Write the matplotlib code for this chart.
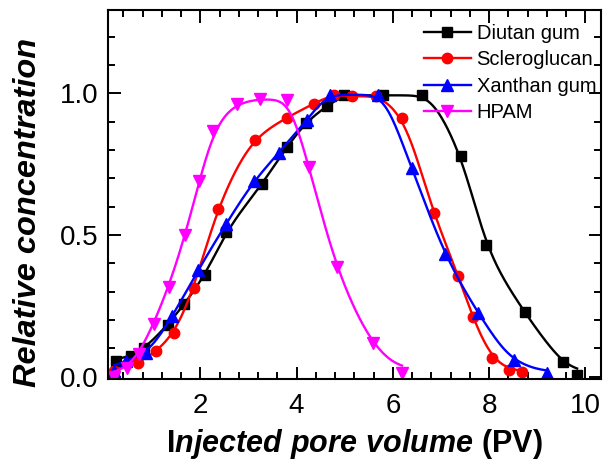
import numpy as np
import matplotlib.pyplot as plt
from matplotlib.ticker import MultipleLocator

plt.rcParams['font.family'] = ['Liberation Sans', 'DejaVu Sans']
plt.rcParams['mathtext.fontset'] = 'custom'
plt.rcParams['mathtext.rm'] = 'Liberation Sans:bold'
plt.rcParams['mathtext.it'] = 'Liberation Sans:bold:italic'
plt.rcParams['mathtext.bf'] = 'Liberation Sans:bold'

# Diutan gum
x_diutan = [0.25, 0.56, 0.83, 1.32, 1.67, 2.10, 2.54, 3.28, 3.80, 4.19, 4.63, 4.98,
            5.80, 6.61, 7.41, 7.94, 8.74, 9.54, 9.83]
y_diutan = [0.054, 0.071, 0.10, 0.183, 0.257, 0.36, 0.51, 0.68, 0.81, 0.897, 0.954, 0.993,
            0.993, 0.993, 0.78, 0.465, 0.228, 0.05, 0.004]

# Scleroglucan
x_sclero = [0.21, 0.70, 1.08, 1.46, 1.86, 2.36, 3.14, 3.80, 4.36, 4.77, 5.15, 5.65,
            6.19, 6.85, 7.36, 7.66, 8.06, 8.41, 8.69]
y_sclero = [0.019, 0.048, 0.089, 0.154, 0.312, 0.59, 0.837, 0.914, 0.963, 0.995, 0.99, 0.99,
            0.914, 0.576, 0.356, 0.209, 0.066, 0.025, 0.015]

# Xanthan gum
x_xanthan = [0.21, 0.45, 0.87, 1.42, 1.96, 2.54, 3.12, 3.63, 4.22, 4.69, 5.70,
             6.39, 7.09, 7.78, 8.51, 9.21]
y_xanthan = [0.02, 0.054, 0.083, 0.215, 0.377, 0.54, 0.69, 0.79, 0.906, 0.995, 0.995,
             0.735, 0.433, 0.224, 0.06, 0.012]

# HPAM
x_hpam = [0.21, 0.48, 0.73, 1.03, 1.34, 1.69, 1.98, 2.26, 2.76, 3.23, 3.80, 4.25,
          4.84, 5.59, 6.19]
y_hpam = [0.0, 0.03, 0.08, 0.187, 0.316, 0.5, 0.69, 0.867, 0.961, 0.979, 0.978, 0.74,
          0.386, 0.119, 0.013]


def smooth_line(x, y, sigma=0.2, n=600):
    # monotone cubic through the points, then a light gaussian blur,
    # only used to draw a rounded line like the original figure
    x = np.asarray(x, float); y = np.asarray(y, float)
    h = np.diff(x)
    d = np.diff(y) / h
    m = np.zeros_like(x)
    for k in range(1, len(x) - 1):
        if d[k - 1] * d[k] > 0:
            w1 = 2 * h[k] + h[k - 1]
            w2 = h[k] + 2 * h[k - 1]
            m[k] = (w1 + w2) / (w1 / d[k - 1] + w2 / d[k])
    m[0] = d[0]
    m[-1] = d[-1]
    xs = np.linspace(x[0], x[-1], n)
    i = np.clip(np.searchsorted(x, xs) - 1, 0, len(x) - 2)
    t = (xs - x[i]) / h[i]
    ys = ((2 * t**3 - 3 * t**2 + 1) * y[i] + (t**3 - 2 * t**2 + t) * h[i] * m[i]
          + (-2 * t**3 + 3 * t**2) * y[i + 1] + (t**3 - t**2) * h[i] * m[i + 1])
    w = np.exp(-0.5 * ((xs[:, None] - xs[None, :]) / sigma) ** 2)
    return xs, (w @ ys) / w.sum(axis=1)


fig = plt.figure(figsize=(6.03, 4.66), dpi=100)
ax = fig.add_axes([0.179, 0.187, 0.818, 0.792])

series = [
    (x_diutan, y_diutan, 'black', 's', 'Diutan gum', 7),
    (x_sclero, y_sclero, 'red', 'o', 'Scleroglucan', 7.5),
    (x_xanthan, y_xanthan, 'blue', '^', 'Xanthan gum', 8),
    (x_hpam, y_hpam, '#FF00FF', 'v', 'HPAM', 8),
]
for xd, yd, c, m, lab, ms in series:
    xs, ys = smooth_line(xd, yd)
    ax.plot(xs, ys, color=c, lw=1.7)
    ax.plot(xd, yd, color=c, marker=m, ms=ms, ls='none')
    ax.plot([], [], color=c, marker=m, ms=ms, lw=1.7, label=lab)

ax.set_xlim(0.08, 10.33)
ax.set_ylim(-0.008, 1.295)
ax.xaxis.set_major_locator(MultipleLocator(2))
ax.xaxis.set_minor_locator(MultipleLocator(0.4))
ax.yaxis.set_major_locator(MultipleLocator(0.5))
ax.yaxis.set_minor_locator(MultipleLocator(0.1))
ax.tick_params(which='both', direction='in', top=True, right=True, width=1.4,
               labelsize=20, pad=7)
ax.tick_params(which='major', length=9)
ax.tick_params(which='minor', length=5)
ax.tick_params(axis='x', pad=10)
for s in ax.spines.values():
    s.set_linewidth(1.5)

ax.set_xlabel(r'$\mathrm{I}\mathit{njected\ pore\ volume}\ \mathrm{(PV)}$', fontsize=22, labelpad=6)
ax.set_ylabel('Relative concentration', fontsize=23.4, fontweight='bold', fontstyle='italic')
ax.yaxis.set_label_coords(-0.132, 0.45)

ax.legend(loc='upper right', bbox_to_anchor=(0.998, 0.972), frameon=False, fontsize=14.5,
          handlelength=2.3, handletextpad=0.3, labelspacing=0.36, borderaxespad=0,
          borderpad=0.2)

fig.savefig('out.png', dpi=100)
